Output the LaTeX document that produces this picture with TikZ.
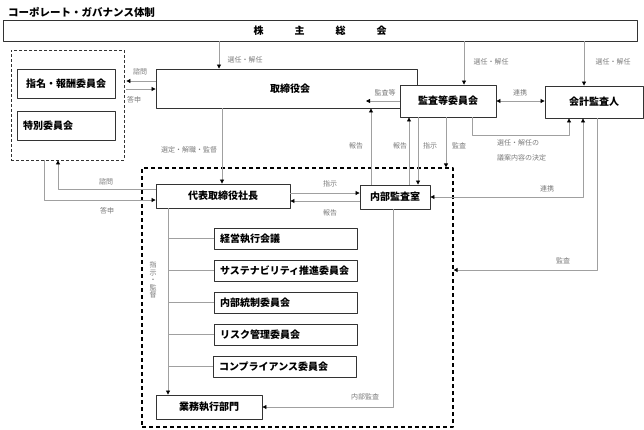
\documentclass[tikz,border=0pt]{standalone}
\usepackage{fontspec}
\setmainfont{Noto Sans CJK JP}
\usetikzlibrary{arrows.meta}
\definecolor{lngray}{HTML}{A0A0A0}
\definecolor{txgray}{HTML}{7A7A7A}
\tikzset{
  box/.style={draw=black!80, line width=0.9pt, fill=white, inner sep=0pt, font=\fontsize{10}{12}\selectfont\bfseries},
  subbox/.style={box, minimum width=143pt, minimum height=21pt, text width=131pt, align=left, inner xsep=6pt},
  conn/.style={draw=lngray, line width=0.8pt},
  lbl/.style={text=txgray, font=\fontsize{7}{8}\selectfont, inner sep=1pt},
}
\begin{document}
\begin{tikzpicture}[x=1pt, y=-1pt, >={Triangle[length=4pt,width=4pt,color=black]}, line join=round]
	\useasboundingbox (0,0) rectangle (644,429);
	\node[anchor=west, inner sep=0pt, font=\fontsize{10.5}{12}\selectfont\bfseries] (title) at (8,12) {コーポレート・ガバナンス体制};
	% 枠
	\node[draw=black!80, densely dashed, line width=0.8pt, minimum width=113pt, minimum height=110pt] (adv) at (67.5,105) {};
	\node[draw=black, dash pattern=on 4pt off 3pt, line width=1.2pt, minimum width=311pt, minimum height=259pt] (exec) at (297.5,297.5) {};
	% 機関
	\node[box, minimum width=634pt, minimum height=21pt] (share) at (320,30.5) {株\hspace{31pt}主\hspace{31pt}総\hspace{31pt}会};
	\node[box, minimum width=98pt, minimum height=29pt] (nom) at (66,83.5) {指名・報酬委員会};
	\node[box, minimum width=98pt, minimum height=29pt, text width=86pt, align=left] (spc) at (66,125.5) {特別委員会};
	\node[box, minimum width=261pt, minimum height=39pt] (board) at (286.5,88.5) {\hspace{7pt}取締役会};
	\node[box, minimum width=96pt, minimum height=32pt] (audit) at (448,101) {監査等委員会};
	\node[box, minimum width=98pt, minimum height=32pt] (acct) at (594,102) {会計監査人};
	\node[box, minimum width=134pt, minimum height=24pt] (ceo) at (223,196) {代表取締役社長};
	\node[box, minimum width=70pt, minimum height=24pt] (ia) at (395,197) {内部監査室};
	\node[subbox] (mtg) at (285.5,238.5) {経営執行会議};
	\node[subbox] (sus) at (285.5,270.5) {サステナビリティ推進委員会};
	\node[subbox] (ic) at (285.5,302.5) {内部統制委員会};
	\node[subbox] (risk) at (285.5,334.5) {リスク管理委員会};
	\node[subbox] (comp) at (284.5,366.5) {コンプライアンス委員会};
	\node[box, minimum width=106pt, minimum height=24pt] (ops) at (209,407) {業務執行部門};
	\coordinate (boardin) at (366,101);
	% 株主総会から
	\draw[conn,->] (share.south -| 219,0) -- (board.north -| 219,0);
	\draw[conn,->] (share.south -| 464,0) -- (audit.north -| 464,0);
	\draw[conn,->] (share.south -| 584,0) -- (acct.north -| 584,0);
	\node[lbl] at (245,60) {選任・解任};
	\node[lbl] at (491,62) {選任・解任};
	\node[lbl] at (613,62) {選任・解任};
	% 取締役会と委員会
	\draw[conn,->] (board.west |- 0,81) -- ([xshift=2pt]adv.east |- 0,81);
	\draw[conn,->] ([xshift=2pt]adv.east |- 0,89) -- (board.west |- 0,89);
	\node[lbl] at (140,72) {諮問};
	\node[lbl] at (134,100) {答申};
	\draw[conn,->] (board.south -| 222,0) -- (ceo.north -| 222,0);
	\node[lbl] at (189,150) {選定・解職・監督};
	\draw[conn,->] (ceo.west |- 0,189) -| (adv.south -| 58,0);
	\draw[conn,->] (adv.south -| 44,0) |- (ceo.west |- 0,200);
	\node[lbl] at (106,182) {諮問};
	\node[lbl] at (107,211) {答申};
	% 監査等委員会
	\draw[conn,->] (audit.west) -- (boardin);
	\node[lbl] at (385,93) {監査等};
	\draw[conn,<->] (audit.east) -- (acct.west |- audit.east);
	\node[lbl] at (520,93) {連携};
	\draw[conn,->] (ia.north -| 371,0) -- (board.south -| 371,0);
	\draw[conn,->] (ia.north -| 409,0) -- (audit.south -| 409,0);
	\draw[conn,->] (audit.south -| 418,0) -- (ia.north -| 418,0);
	\draw[conn,->] (audit.south -| 446,0) -- (exec.north -| 446,0);
	\node[lbl] at (356,146) {報告};
	\node[lbl] at (400,146) {報告};
	\node[lbl] at (430,146) {指示};
	\node[lbl] at (459,146) {監査};
	\draw[conn,->] (audit.south -| 472,0) -- (472,135) -| (acct.south -| 569,0);
	\node[lbl, anchor=west, align=left, font=\fontsize{7}{15}\selectfont] at (496,150.5) {選任・解任の\\議案内容の決定};
	% 会計監査人
	\draw[conn,<->] (acct.south -| 583,0) |- (ia.east);
	\node[lbl] at (547,189) {連携};
	\draw[conn,->] (acct.south -| 597,0) |- (exec.east |- 0,270);
	\node[lbl] at (563,261) {監査};
	% 執行
	\draw[conn,->] (ceo.east |- 0,193) -- (ia.west |- 0,193);
	\draw[conn,->] (ia.west |- 0,201) -- (ceo.east |- 0,201);
	\node[lbl] at (330,184) {指示};
	\node[lbl] at (330,213) {報告};
	\draw[conn,->] (ceo.south -| 168,0) -- (ops.north -| 168,0);
	\draw[conn] (mtg.west -| 168,0) -- (mtg.west);
	\draw[conn] (sus.west -| 168,0) -- (sus.west);
	\draw[conn] (ic.west -| 168,0) -- (ic.west);
	\draw[conn] (risk.west -| 168,0) -- (risk.west);
	\draw[conn] (comp.west -| 168,0) -- (comp.west);
	\node[lbl, align=center, font=\fontsize{7}{7.6}\selectfont] at (153,280) {指\\示\\・\\監\\督};
	\draw[conn,->] (ia.south -| 393,0) |- (ops.east);
	\node[lbl] at (365,397) {内部監査};
\end{tikzpicture}
\end{document}
